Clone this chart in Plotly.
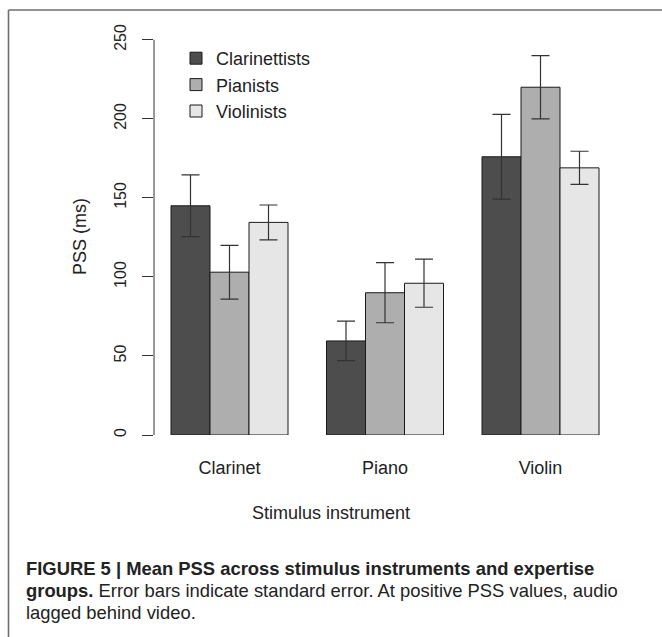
import plotly.graph_objects as go

# ---- data ----
instruments = ["Clarinet", "Piano", "Violin"]
groups = ["Clarinettists", "Pianists", "Violinists"]
clarinettists_mean = [145, 59.5, 176]
clarinettists_se = [19.5, 12.5, 26.8]
pianists_mean = [103, 90, 220]
pianists_se = [17, 19, 20]
violinists_mean = [134.5, 96, 169]
violinists_se = [11, 15.2, 10.5]
colors = ["#4D4D4D", "#AEAEAE", "#E6E6E6"]
y_ticks = [0, 50, 100, 150, 200, 250]

W, H = 662, 637
L, R, T, B = 154, 46, 24, 202
PW, PH = W - L - R, H - T - B


def xp(px):
    return (px - L) / PW


def yp(py):
    return (H - B - py) / PH


FONT = "Liberation Sans, Arial, Helvetica, sans-serif"

fig = go.Figure()
series = [
    (groups[0], clarinettists_mean, clarinettists_se, colors[0]),
    (groups[1], pianists_mean, pianists_se, colors[1]),
    (groups[2], violinists_mean, violinists_se, colors[2]),
]
for name, m, se, c in series:
    fig.add_trace(go.Bar(
        x=instruments, y=m, name=name,
        marker=dict(color=c, line=dict(color="#1a1a1a", width=1)),
        error_y=dict(type="data", array=se, visible=True,
                     color="#333333", thickness=1.2, width=9),
    ))

fig.update_layout(
    width=W, height=H,
    margin=dict(l=L, r=R, t=T, b=B, autoexpand=False),
    paper_bgcolor="white", plot_bgcolor="white",
    barmode="group", bargap=0.2476, bargroupgap=0,
    font=dict(family=FONT, color="#222222"),
    showlegend=True,
    legend=dict(
        x=xp(176), y=yp(85), xanchor="left", yanchor="middle",
        bgcolor="rgba(0,0,0,0)", font=dict(size=18, color="#222222"),
        itemclick=False, tracegroupgap=0,
    ),
    xaxis=dict(
        range=[-0.4855, 2.4855], showgrid=False, zeroline=False,
        showline=False, ticks="", tickfont=dict(size=18, color="#222222"),
        ticklabelstandoff=20,
    ),
    yaxis=dict(
        range=[0, 260], showgrid=False, zeroline=False, showline=False,
        tickvals=y_ticks, ticktext=[str(v) for v in y_ticks],
        tickangle=-90, ticks="outside", ticklen=11, tickwidth=1,
        tickcolor="#333333", tickfont=dict(size=16, color="#222222"),
        ticklabelstandoff=10,
    ),
)

# y axis line (from first to last tick, like R)
fig.add_shape(type="line", xref="paper", yref="y", x0=0, x1=0,
              y0=y_ticks[0], y1=y_ticks[-1],
              line=dict(color="#333333", width=1))

# outer frame (left and top edges)
fig.add_shape(type="line", xref="paper", yref="paper",
              x0=xp(8.5), x1=xp(8.5), y0=yp(10), y1=yp(640),
              line=dict(color="#6e6e6e", width=1.6))
fig.add_shape(type="line", xref="paper", yref="paper",
              x0=xp(8.5), x1=xp(665), y0=yp(10), y1=yp(10),
              line=dict(color="#6e6e6e", width=1.6))

# axis titles
fig.add_annotation(text="PSS (ms)", xref="paper", yref="paper",
                   x=xp(80), y=yp(237), textangle=-90, showarrow=False,
                   xanchor="center", yanchor="middle",
                   font=dict(size=18, color="#222222"))
fig.add_annotation(text="Stimulus instrument", xref="paper", yref="paper",
                   x=xp(331), y=yp(513), showarrow=False,
                   xanchor="center", yanchor="middle",
                   font=dict(size=18, color="#222222"))

# caption (one annotation per line)
caption_lines = [
    "<b>FIGURE 5 | Mean PSS across stimulus instruments and expertise</b>",
    "<b>groups.</b> Error bars indicate standard error. At positive PSS values, audio",
    "lagged behind video.",
]
caption_y = [568, 590, 612]
for line, cy in zip(caption_lines, caption_y):
    fig.add_annotation(text=line, xref="paper", yref="paper",
                       x=xp(24), y=yp(cy), showarrow=False, align="left",
                       xanchor="left", yanchor="middle",
                       font=dict(size=18.4, color="#222222"))

fig.write_html("out.html",
               config={"displayModeBar": False},
               post_script="document.body.style.margin='0';"
                           "document.body.style.overflow='hidden';")
